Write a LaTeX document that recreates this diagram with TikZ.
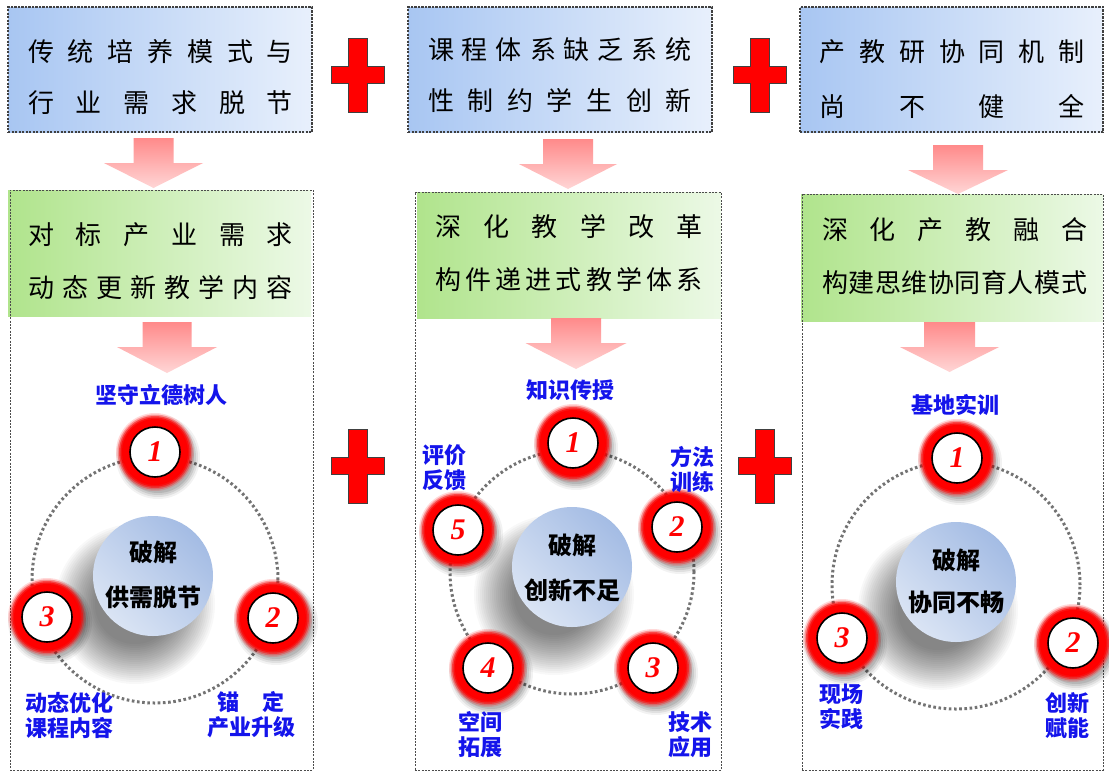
\documentclass[tikz,border=0pt]{standalone}
\usepackage{fontspec}
\setmainfont{Liberation Serif}
\newfontfamily\cjk{Noto Sans CJK SC}
\usetikzlibrary{calc}
\definecolor{boxL}{RGB}{168,198,242}
\definecolor{boxR}{RGB}{232,240,252}
\definecolor{grnL}{RGB}{176,228,140}
\definecolor{grnR}{RGB}{236,249,230}
\definecolor{pinkT}{RGB}{255,138,138}
\definecolor{pinkB}{RGB}{255,214,214}
\definecolor{discL}{RGB}{218,228,244}
\definecolor{discD}{RGB}{164,188,228}
\definecolor{lblue}{RGB}{20,20,235}
\definecolor{plusred}{RGB}{255,0,0}
\tikzset{
 topbox/.style={draw=black!75, line width=1.1pt, dash pattern=on 2.2pt off 1.3pt, left color=boxL, right color=boxR, inner sep=0pt},
 grnbox/.style={left color=grnL, right color=grnR, draw=none, inner sep=0pt},
 panel/.style={draw=black!70, line width=0.8pt, dash pattern=on 2pt off 1.3pt, inner sep=0pt},
 boxtext/.style={font=\cjk\fontsize{26}{26}\selectfont, inner sep=0pt},
 lbl/.style={font=\cjk\bfseries\fontsize{22}{25}\selectfont, text=lblue, align=center, inner sep=0pt},
 ctext/.style={font=\cjk\bfseries\fontsize{24}{24}\selectfont, inner sep=0pt},
 disc/.style={circle, minimum size=120pt, top color=discD, bottom color=discL, shading angle=-45, inner sep=0pt},
 numnode/.style={circle, fill=white, draw=black, line width=1.6pt, minimum size=50pt, inner sep=0pt, text=red, font=\bfseries\itshape\fontsize{30}{30}\selectfont},
 dotring/.style={draw=black!55, line width=3pt, dash pattern=on 2.6pt off 2.6pt},
 arrowshade/.style={top color=pinkT, bottom color=pinkB},
 plusshape/.style={fill=plusred, draw=black!75, line width=1pt},
}
\newcommand\ringnode[3]{%
  \begin{scope}[shift={(#2)}]
    \foreach \r/\o in {42/0.05,40/0.07,38/0.09,36/0.1} \fill[black,opacity=\o] (3,5) circle (\r pt);
    \foreach \r/\o in {39/0.15,37.5/0.3,36/0.5,34.5/0.7,33/0.9} \fill[red,opacity=\o] (0,0) circle (\r pt);
    \fill[red] (0,0) circle (32pt);
  \end{scope}
  \node[numnode] (#1) at (#2) {#3};
}
\newcommand\discshadow[2]{%
  \foreach \r in {80,78,...,40} \fill[black,opacity=0.028] (#1-18,#2+28) circle (\r pt);
}
\newcommand\plussign[2]{%
  \filldraw[plusshape] (#1-9.5,#2-37) -- (#1+9.5,#2-37) -- (#1+9.5,#2-8.5) -- (#1+26.5,#2-8.5)
   -- (#1+26.5,#2+8.5) -- (#1+9.5,#2+8.5) -- (#1+9.5,#2+37) -- (#1-9.5,#2+37) -- (#1-9.5,#2+8.5)
   -- (#1-26.5,#2+8.5) -- (#1-26.5,#2-8.5) -- (#1-9.5,#2-8.5) -- cycle;
}
\newcommand\blockarrow[6]{%
  \shade[arrowshade] (#1-#5,#2) -- (#1+#5,#2) -- (#1+#5,#3) -- (#1+#6,#3) -- (#1,#4) -- (#1-#6,#3) -- (#1-#5,#3) -- cycle;
}
\begin{document}
\begin{tikzpicture}[x=1pt,y=-1pt]
\useasboundingbox (0,0) rectangle (1109,772);
\fill[white] (0,0) rectangle (1109,772);

% top boxes
\node[topbox, minimum width=304pt, minimum height=125pt] (pa) at (160,69.5) {};
\node[topbox, minimum width=304pt, minimum height=125pt] (pb) at (560,69.5) {};
\node[topbox, minimum width=303pt, minimum height=125pt] (pc) at (951.5,69.5) {};
\node[boxtext] (pa1) at (160.5,52) {\makebox[265pt]{传\hfill 统\hfill 培\hfill 养\hfill 模\hfill 式\hfill 与}};
\node[boxtext] (pa2) at (160.5,103) {\makebox[265pt]{行\hfill 业\hfill 需\hfill 求\hfill 脱\hfill 节}};
\node[boxtext] (pb1) at (560,50) {\makebox[264pt]{课\hfill 程\hfill 体\hfill 系\hfill 缺\hfill 乏\hfill 系\hfill 统}};
\node[boxtext] (pb2) at (560,100) {\makebox[264pt]{性\hfill 制\hfill 约\hfill 学\hfill 生\hfill 创\hfill 新}};
\node[boxtext] (pc1) at (952,52) {\makebox[265pt]{产\hfill 教\hfill 研\hfill 协\hfill 同\hfill 机\hfill 制}};
\node[boxtext] (pc2) at (952,106) {\makebox[265pt]{尚\hfill 不\hfill 健\hfill 全}};

% plus signs
\plussign{358}{75}
\plussign{760}{75}
\plussign{358}{466}
\plussign{764.5}{466}

% arrows top -> green
\blockarrow{153.5}{138}{163}{188}{20}{49.5}
\blockarrow{568}{139}{164}{189}{25}{49}
\blockarrow{958}{145}{170}{194}{25}{50}

% green boxes
\node[grnbox, minimum width=303pt, minimum height=126pt] (ga) at (159.5,253) {};
\node[grnbox, minimum width=304pt, minimum height=126pt] (gb) at (569,255) {};
\node[grnbox, minimum width=302pt, minimum height=127pt] (gc) at (952,257.5) {};
\node[boxtext] (ga1) at (160.5,235) {\makebox[265pt]{对\hfill 标\hfill 产\hfill 业\hfill 需\hfill 求}};
\node[boxtext] (ga2) at (160.5,288) {\makebox[265pt]{动\hfill 态\hfill 更\hfill 新\hfill 教\hfill 学\hfill 内\hfill 容}};
\node[boxtext] (gb1) at (569,227) {\makebox[268pt]{深\hfill 化\hfill 教\hfill 学\hfill 改\hfill 革}};
\node[boxtext] (gb2) at (569,280) {\makebox[268pt]{构\hfill 件\hfill 递\hfill 进\hfill 式\hfill 教\hfill 学\hfill 体\hfill 系}};
\node[boxtext] (gc1) at (954.5,230) {\makebox[265pt]{深\hfill 化\hfill 产\hfill 教\hfill 融\hfill 合}};
\node[boxtext] (gc2) at (954.5,283) {\makebox[265pt]{构\hfill 建\hfill 思\hfill 维\hfill 协\hfill 同\hfill 育\hfill 人\hfill 模\hfill 式}};

% panels
\node[panel, minimum width=303pt, minimum height=580pt] (panA) at (161.5,480) {};
\node[panel, minimum width=306pt, minimum height=578pt] (panB) at (568,481) {};
\node[panel, minimum width=301pt, minimum height=576pt] (panC) at (952.5,482) {};

% arrows green -> circles
\blockarrow{167}{322}{347}{373}{24.5}{50}
\blockarrow{576}{318}{343}{369}{25}{50.5}
\blockarrow{949.5}{322}{347}{372}{25.5}{49.5}

% ---- panel A
\discshadow{153}{576}
\draw[dotring] (155,580) circle (123pt);
\node[disc] (da) at (153,576) {};
\node[ctext] (da1) at (153,552) {破解};
\node[ctext] (da2) at (153,597) {供需脱节};
\ringnode{a1}{155,452}{1}
\ringnode{a2}{273,618}{2}
\ringnode{a3}{47,617}{3}
\node[lbl] (la1) at (161,395) {坚守立德树人};
\node[lbl] (la2) at (251,715) {\makebox[68pt]{锚\hfill 定}\\产业升级};
\node[lbl] (la3) at (69,715) {动态优化\\课程内容};

% ---- panel B
\discshadow{572}{567}
\draw[dotring] (572,572) circle (122pt);
\node[disc] (db) at (572,567) {};
\node[ctext] (db1) at (572,545) {破解};
\node[ctext] (db2) at (572,590) {创新不足};
\ringnode{b1}{573,443}{1}
\ringnode{b2}{677,527}{2}
\ringnode{b3}{653,668}{3}
\ringnode{b4}{488,668}{4}
\ringnode{b5}{458,530}{5}
\node[lbl] (lb1) at (570,390) {知识传授};
\node[lbl] (lb2) at (692,469.5) {方法\\训练};
\node[lbl] (lb3) at (690,734.5) {技术\\应用};
\node[lbl] (lb4) at (480,734.5) {空间\\拓展};
\node[lbl] (lb5) at (444,467.5) {评价\\反馈};

% ---- panel C
\discshadow{956}{582}
\draw[dotring] (956,585) circle (124pt);
\node[disc] (dc) at (956,582) {};
\node[ctext] (dc1) at (956,560) {破解};
\node[ctext] (dc2) at (956,602) {协同不畅};
\ringnode{c1}{957,458}{1}
\ringnode{c2}{1073,643}{2}
\ringnode{c3}{842,638}{3}
\node[lbl] (lc1) at (955,405) {基地实训};
\node[lbl] (lc2) at (1067,715.5) {创新\\赋能};
\node[lbl] (lc3) at (841,706.5) {现场\\实践};
\end{tikzpicture}
\end{document}
